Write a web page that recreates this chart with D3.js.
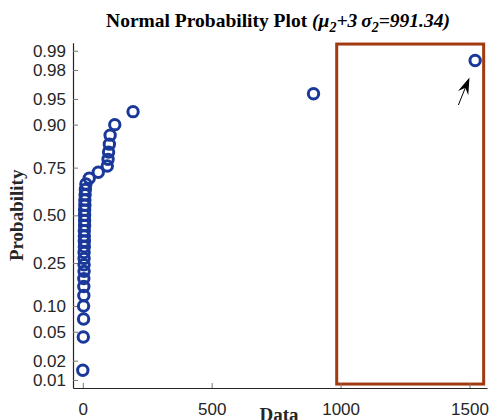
<!DOCTYPE html>
<html>
<head>
<meta charset="utf-8">
<script src="https://cdn.jsdelivr.net/npm/d3@7"></script>
<style>
  html, body { margin: 0; padding: 0; background: #fff; }
  svg { display: block; }
</style>
</head>
<body>
<svg id="chart" width="489" height="420"></svg>
<script>
// ---- data (sorted sample values) ----
const dataValues = [0, 2, 3, 3, 4, 4, 4, 5, 5, 5, 5, 6, 6, 6, 6, 7, 7, 7, 7, 8, 8, 9, 10, 12,
                    25, 60, 95, 98, 100, 103, 106, 124, 195, 895, 1522];
const probTicks = [0.01, 0.02, 0.05, 0.10, 0.25, 0.50, 0.75, 0.90, 0.95, 0.98, 0.99];
const probTickLabels = ["0.01", "0.02", "0.05", "0.10", "0.25", "0.50", "0.75", "0.90", "0.95", "0.98", "0.99"];
const xTicks = [0, 500, 1000, 1500];
const xDomain = [-38, 1568];
const zDomain = [-2.44, 2.44];
// highlight box (data x, probability)
const boxX = [985, 1555];
const boxP = [0.00856, 0.99226];
// arrow (tail -> tip)
const arrowX = [1457, 1500];
const arrowP = [0.9405, 0.9744];

// inverse standard normal CDF (Acklam)
function norminv(p) {
  const a = [-3.969683028665376e+01, 2.209460984245205e+02, -2.759285104469687e+02, 1.383577518672690e+02, -3.066479806614716e+01, 2.506628277459239e+00];
  const b = [-5.447609879822406e+01, 1.615858368580409e+02, -1.556989798598866e+02, 6.680131188771972e+01, -1.328068155288572e+01];
  const c = [-7.784894002430293e-03, -3.223964580411365e-01, -2.400758277161838e+00, -2.549732539343734e+00, 4.374664141464968e+00, 2.938163982698783e+00];
  const d = [7.784695709041462e-03, 3.224671290700398e-01, 2.445134137142996e+00, 3.754408661907416e+00];
  const pl = 0.02425, ph = 1 - pl;
  let q, r;
  if (p < pl) {
    q = Math.sqrt(-2 * Math.log(p));
    return (((((c[0]*q+c[1])*q+c[2])*q+c[3])*q+c[4])*q+c[5]) / ((((d[0]*q+d[1])*q+d[2])*q+d[3])*q+1);
  }
  if (p <= ph) {
    q = p - 0.5; r = q * q;
    return (((((a[0]*r+a[1])*r+a[2])*r+a[3])*r+a[4])*r+a[5])*q / (((((b[0]*r+b[1])*r+b[2])*r+b[3])*r+b[4])*r+1);
  }
  q = Math.sqrt(-2 * Math.log(1 - p));
  return -(((((c[0]*q+c[1])*q+c[2])*q+c[3])*q+c[4])*q+c[5]) / ((((d[0]*q+d[1])*q+d[2])*q+d[3])*q+1);
}

(function draw() {
const svg = d3.select("#chart");
const mLeft = 73, mRight = 487, mTop = 42.7, mBottom = 388;

const x = d3.scaleLinear().domain(xDomain).range([mLeft, mRight]);
const z = d3.scaleLinear().domain(zDomain).range([mBottom, mTop]);
const yp = p => z(norminv(p));

const n = dataValues.length;
const points = dataValues.map((v, i) => ({ v, p: (i + 1 - 0.5) / n }));

// highlight rectangle
svg.append("rect")
  .attr("x", x(boxX[0]))
  .attr("y", yp(boxP[1]))
  .attr("width", x(boxX[1]) - x(boxX[0]))
  .attr("height", yp(boxP[0]) - yp(boxP[1]))
  .attr("fill", "none")
  .attr("stroke", "#a23a10")
  .attr("stroke-width", 3);

// axes
const yAxis = d3.axisLeft(z)
  .tickValues(probTicks.map(norminv))
  .tickFormat((d, i) => probTickLabels[i])
  .tickSizeInner(-5).tickSizeOuter(0).tickPadding(7);
const gy = svg.append("g").attr("transform", `translate(${mLeft},0)`).call(yAxis);

const xAxis = d3.axisBottom(x)
  .tickValues(xTicks)
  .tickFormat(d3.format("d"))
  .tickSizeInner(-5).tickSizeOuter(0).tickPadding(15);
const gx = svg.append("g").attr("transform", `translate(0,${mBottom})`).call(xAxis);

[gx, gy].forEach(g => {
  g.select(".domain").attr("stroke", "#262626").attr("stroke-width", 1.2);
  g.selectAll(".tick line").attr("stroke", "#777").attr("stroke-width", 1);
  g.selectAll(".tick text")
    .attr("fill", "#262626")
    .attr("font-family", "'Liberation Sans', Arial, sans-serif")
    .attr("font-size", 17);
});

// points
svg.append("g").selectAll("circle")
  .data(points)
  .join("circle")
  .attr("cx", d => x(d.v))
  .attr("cy", d => yp(d.p))
  .attr("r", 5.2)
  .attr("fill", "none")
  .attr("stroke", "#1a3899")
  .attr("stroke-width", 3);

// arrow
const ax0 = x(arrowX[0]), ay0 = yp(arrowP[0]);
const ax1 = x(arrowX[1]), ay1 = yp(arrowP[1]);
const dx = ax1 - ax0, dy = ay1 - ay0, len = Math.hypot(dx, dy);
const ux = dx / len, uy = dy / len, nx = -uy, ny = ux;
const HL = 17, HW = 5.5, notch = 0.35;
const bx = ax1 - HL * ux, by = ay1 - HL * uy;
svg.append("line")
  .attr("x1", ax0).attr("y1", ay0)
  .attr("x2", ax1 - HL * 0.6 * ux).attr("y2", ay1 - HL * 0.6 * uy)
  .attr("stroke", "#000").attr("stroke-width", 1);
svg.append("path")
  .attr("d", `M${ax1},${ay1} L${bx + HW * nx},${by + HW * ny} L${ax1 - HL * (1 - notch) * ux},${ay1 - HL * (1 - notch) * uy} L${bx - HW * nx},${by - HW * ny} Z`)
  .attr("fill", "#000");

// title
const title = svg.append("text")
  .attr("x", (mLeft + mRight) / 2 - 2)
  .attr("y", 27)
  .attr("text-anchor", "middle")
  .attr("font-family", "'Liberation Serif', 'Times New Roman', serif")
  .attr("font-weight", "bold")
  .attr("font-size", 19.5)
  .attr("fill", "#000");
title.append("tspan").text("Normal Probability Plot ");
title.append("tspan").attr("font-style", "italic").text("(μ");
title.append("tspan").attr("font-style", "italic").attr("font-size", 14).attr("dy", 5).text("2");
title.append("tspan").attr("font-style", "italic").attr("dy", -5).text("+3\u2009σ");
title.append("tspan").attr("font-style", "italic").attr("font-size", 14).attr("dy", 5).text("2");
title.append("tspan").attr("font-style", "italic").attr("dy", -5).text("=991.34)");

// axis labels
svg.append("text")
  .attr("x", 279).attr("y", 421)
  .attr("text-anchor", "middle")
  .attr("font-family", "'Liberation Serif', 'Times New Roman', serif")
  .attr("font-weight", "bold").attr("font-size", 19)
  .attr("fill", "#262626")
  .text("Data");

svg.append("text")
  .attr("transform", `translate(23,${(mTop + mBottom) / 2}) rotate(-90)`)
  .attr("text-anchor", "middle")
  .attr("font-family", "'Liberation Serif', 'Times New Roman', serif")
  .attr("font-weight", "bold").attr("font-size", 19)
  .attr("fill", "#262626")
  .text("Probability");
})();
</script>
</body>
</html>
